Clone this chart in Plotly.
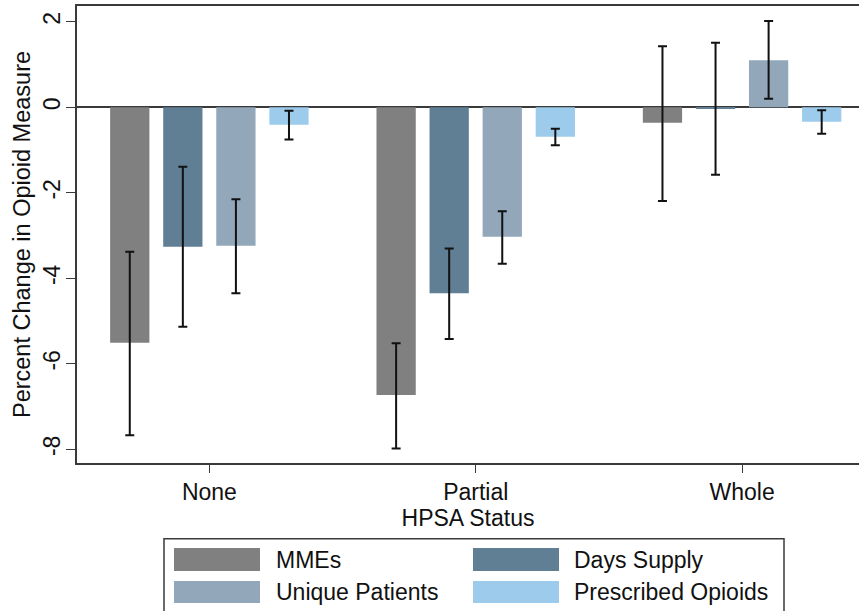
import plotly.graph_objects as go
import numpy as np

categories = ["None", "Partial", "Whole"]
series_names = ["MMEs", "Days Supply", "Unique Patients", "Prescribed Opioids"]
colors = ["#808080", "#607f95", "#93a7ba", "#9ccbec"]

mmes = [-5.51, -6.73, -0.36]
mmes_lo = [-7.67, -7.98, -2.19]
mmes_hi = [-3.38, -5.52, 1.43]

days = [-3.26, -4.35, -0.03]
days_lo = [-5.13, -5.42, -1.58]
days_hi = [-1.39, -3.30, 1.51]

unique = [-3.24, -3.03, 1.10]
unique_lo = [-4.35, -3.66, 0.20]
unique_hi = [-2.15, -2.43, 2.02]

presc = [-0.41, -0.69, -0.34]
presc_lo = [-0.75, -0.89, -0.62]
presc_hi = [-0.08, -0.50, -0.07]

y_ticks = [2, 0, -2, -4, -6, -8]

values = [mmes, days, unique, presc]
lows = [mmes_lo, days_lo, unique_lo, presc_lo]
highs = [mmes_hi, days_hi, unique_hi, presc_hi]

FONT = "Liberation Sans, Arial, sans-serif"
W, H = 859, 611
L, R, T, B = 77, 0, 6, 148
PW = W - L - R
PH = H - T - B


def px(x):
    return (x - L) / PW


def py(y):
    return (H - B - y) / PH


fig = go.Figure()
for name, col, v, lo, hi in zip(series_names, colors, values, lows, highs):
    v = np.array(v)
    lo = np.array(lo)
    hi = np.array(hi)
    fig.add_trace(go.Bar(
        name=name, x=categories, y=v, marker_color=col,
        marker_line_width=0,
        error_y=dict(type="data", symmetric=False, array=hi - v,
                     arrayminus=v - lo, color="#111111", thickness=2,
                     width=4.5),
        showlegend=False,
    ))

fig.update_layout(
    width=W, height=H,
    margin=dict(l=L, r=R, t=T, b=B),
    paper_bgcolor="white", plot_bgcolor="white",
    barmode="group", bargap=0.203, bargroupgap=0.26,
    font=dict(family=FONT, size=23, color="#111111"),
)
fig.update_xaxes(
    type="category", range=[-0.497, 2.439],
    showline=True, linecolor="#3a3a3a", linewidth=1.5, mirror=True,
    ticks="outside", ticklen=8, tickcolor="#3a3a3a", tickwidth=1.2,
    tickfont=dict(size=23), showgrid=False,
    title=dict(text="HPSA Status", font=dict(size=23), standoff=0),
)
fig.update_yaxes(
    range=[-8.32, 2.37], tickvals=y_ticks, ticktext=[str(t) for t in y_ticks],
    showline=True, linecolor="#3a3a3a", linewidth=1.5,
    ticks="outside", ticklen=9, tickcolor="#3a3a3a", tickwidth=1.2,
    tickangle=-90, tickfont=dict(size=23), showgrid=False,
    ticklabelstandoff=-3,
    zeroline=True, zerolinecolor="#3a3a3a", zerolinewidth=1.5,
    title=dict(text="Percent Change in Opioid Measure", font=dict(size=23.5), standoff=2),
)

# Legend box (drawn manually to match large swatches)
shapes = [dict(type="rect", xref="paper", yref="paper",
               x0=px(164), x1=px(784), y0=py(640), y1=py(538.7),
               line=dict(color="#3a3a3a", width=1.5), fillcolor="white", layer="above")]
annotations = []
sw_x = [(174, 260), (473, 559)]
txt_x = [274, 572]
rows = [(548, 571), (581, 603)]
for i, (name, col) in enumerate(zip(series_names, colors)):
    c = i % 2
    r = i // 2
    x0, x1 = sw_x[c]
    y0, y1 = rows[r]
    shapes.append(dict(type="rect", xref="paper", yref="paper",
                       x0=px(x0), x1=px(x1), y0=py(y1), y1=py(y0),
                       line=dict(width=0), fillcolor=col, layer="above"))
    annotations.append(dict(xref="paper", yref="paper", x=px(txt_x[c]),
                            y=py((y0 + y1) / 2), text=name, showarrow=False,
                            xanchor="left", yanchor="middle",
                            font=dict(size=23, color="#111111")))
fig.update_layout(shapes=shapes, annotations=annotations)

fig.write_html("out.html")
